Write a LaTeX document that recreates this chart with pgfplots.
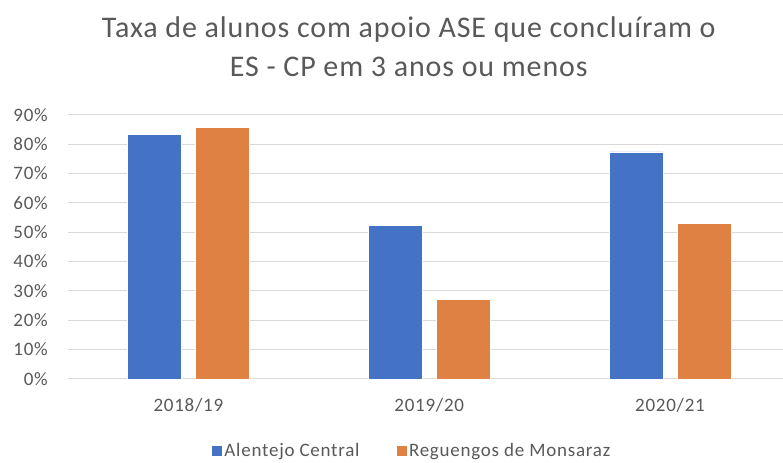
\documentclass[border=0pt]{standalone}
\usepackage{fontspec}
\setmainfont{Carlito}
\newfontfamily\labelfont{Carlito}[LetterSpace=4]
\newfontfamily\titlefont{Carlito}[LetterSpace=3]
\usepackage{pgfplots}
\pgfplotsset{compat=1.18}
\definecolor{xlBlue}{HTML}{4472C4}
\definecolor{xlOrange}{HTML}{E08144}
\definecolor{txtGray}{HTML}{595959}
\definecolor{gridGray}{HTML}{D9D9D9}

\begin{document}
\begin{tikzpicture}[x=1pt,y=1pt]
  % blank frame to fix the canvas to 783 x 462
  \path (0,0) rectangle (783,462);
  \begin{axis}[
    at={(68pt,83pt)}, anchor=south west,
    scale only axis,
    width=715pt, height=264pt,
    ybar=14pt,
    bar width=54pt,
    xmin=-0.5, xmax=2.467,
    ymin=0, ymax=90,
    xtick=data,
    xticklabels={2018/19,2019/20,2020/21},
    ytick={0,10,...,90},
    yticklabel={\pgfmathprintnumber{\tick}\%},
    /pgf/number format/assume math mode=true,
    tick label style={font=\labelfont\fontsize{19}{21}\selectfont, text=txtGray, inner sep=0pt},
    major tick length=0pt,
    ymajorgrids,
    grid style={draw=gridGray, line width=1pt},
    axis line style={draw=none},
    axis x line*=bottom,
    x axis line style={draw=gridGray, line width=1pt},
    axis y line=none,
    yticklabel style={anchor=east, xshift=-20pt},
    xticklabel style={anchor=north, yshift=-19pt},
    hide y axis=false,
    clip=false,
    title={Taxa de alunos com apoio ASE que concluíram o\\ES - CP em 3 anos ou menos},
    title style={at={(0.477,1)}, anchor=south, yshift=32pt, inner sep=0pt, align=center,
      font=\titlefont\fontsize{30}{39}\selectfont, text=txtGray},
    legend columns=2,
    legend style={at={(0.481,0)}, anchor=center, yshift=-72pt, draw=none,
      font=\labelfont\fontsize{19}{21}\selectfont, text=txtGray,
      /tikz/every even column/.append style={column sep=34pt}},
    legend image code/.code={\fill[#1] (0,-5.5pt) rectangle (11pt,5.5pt);},
  ]
    \addplot[fill=xlBlue, draw=white, line width=0.5pt] coordinates {
      (0,83.3) (1,52.4) (2,77.4)
    };
    \addplot[fill=xlOrange, draw=white, line width=0.5pt] coordinates {
      (0,85.7) (1,27.2) (2,53.0)
    };
    \legend{Alentejo Central, Reguengos de Monsaraz}
  \end{axis}
\end{tikzpicture}
\end{document}
